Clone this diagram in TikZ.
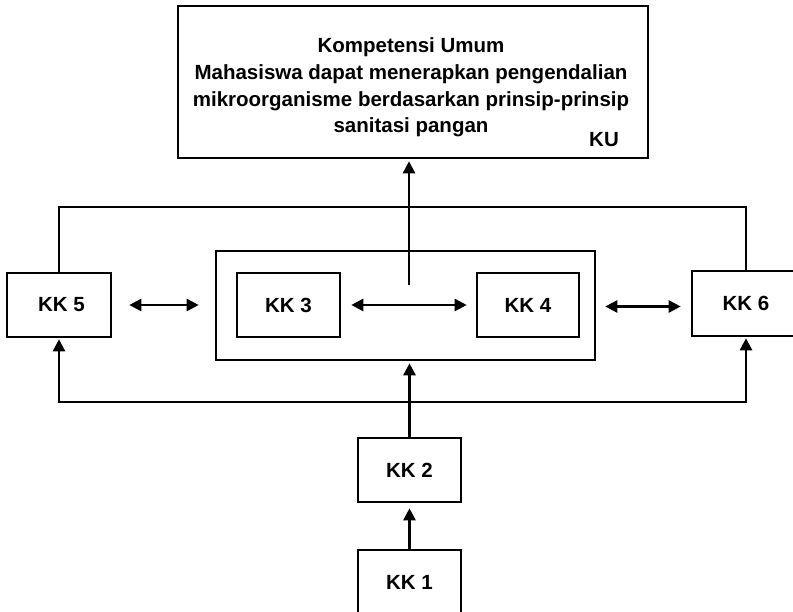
\documentclass[tikz,border=0pt]{standalone}
\usepackage{fontspec}
\setmainfont{Liberation Sans}
\usetikzlibrary{arrows.meta}
\tikzset{
  box/.style={draw, line width=2.6pt, inner sep=0pt, font=\bfseries\fontsize{20.5}{26}\selectfont},
  txt/.style={inner sep=0pt, anchor=base, font=\bfseries\fontsize{20.5}{26}\selectfont},
  conn/.style={line width=2.6pt},
  tip/.style={-{Triangle[width=12pt,length=12pt]}},
  dtip/.style={{Triangle[width=12pt,length=12pt]}-{Triangle[width=12pt,length=12pt]}}
}
\begin{document}
\begin{tikzpicture}[x=1pt,y=-1pt]
\useasboundingbox (0,0) rectangle (793,612);
% boxes
\node[box, minimum width=470pt, minimum height=152pt] (ku) at (413,82) {};
\node[txt] (t1) at (411,53) {Kompetensi Umum};
\node[txt] (t2) at (411,80) {Mahasiswa dapat menerapkan pengendalian};
\node[txt] (t3) at (411,106.5) {mikroorganisme berdasarkan prinsip-prinsip};
\node[txt] (t4) at (411,133) {sanitasi pangan};
\node[txt] (kul) at (604,147) {KU};

\node[box, minimum width=104pt, minimum height=64pt] (kk5) at (59,305) {\hspace*{5pt}KK 5};
\node[box, minimum width=379pt, minimum height=109pt] (big) at (405.5,305.5) {};
\node[box, minimum width=103pt, minimum height=64pt] (kk3) at (288.5,305) {KK 3};
\node[box, minimum width=102pt, minimum height=64pt] (kk4) at (528,305) {KK 4};
\node[box, minimum width=108pt, minimum height=65pt] (kk6) at (746,303.5) {KK 6};
\node[box, minimum width=103pt, minimum height=64pt] (kk2) at (409.5,470) {KK 2};
\node[box, minimum width=103pt, minimum height=64pt] (kk1) at (409.5,582) {KK 1};

\coordinate (ht) at (0,207);
\coordinate (hb) at (0,402);
\coordinate (up) at (409,285);

% connectors
\draw[conn] (kk5.north) -- (kk5.north |- ht) -| (kk6.north);
\draw[conn, dtip, shorten <=1pt, shorten >=1pt] (kk5.south) -- (kk5.south |- hb) -| (kk6.south);
\draw[conn, tip, shorten >=2pt] (kk2.north) -- (kk2.north |- big.south);
\draw[conn, tip, shorten >=5pt] (kk1.north) -- (kk2.south);
\draw[conn, tip, shorten >=2pt] (up) -- (up |- ku.south);
\draw[conn, dtip] ([xshift=17pt]kk5.east) -- ([xshift=-16pt]big.west |- kk5.east);
\draw[conn, dtip] ([xshift=10pt]kk3.east) -- ([xshift=-9pt]kk4.west);
\draw[conn, dtip] ([xshift=9pt,yshift=-1pt]big.east) -- ([xshift=-10pt,yshift=-1pt]big.east -| kk6.west);
\end{tikzpicture}
\end{document}
